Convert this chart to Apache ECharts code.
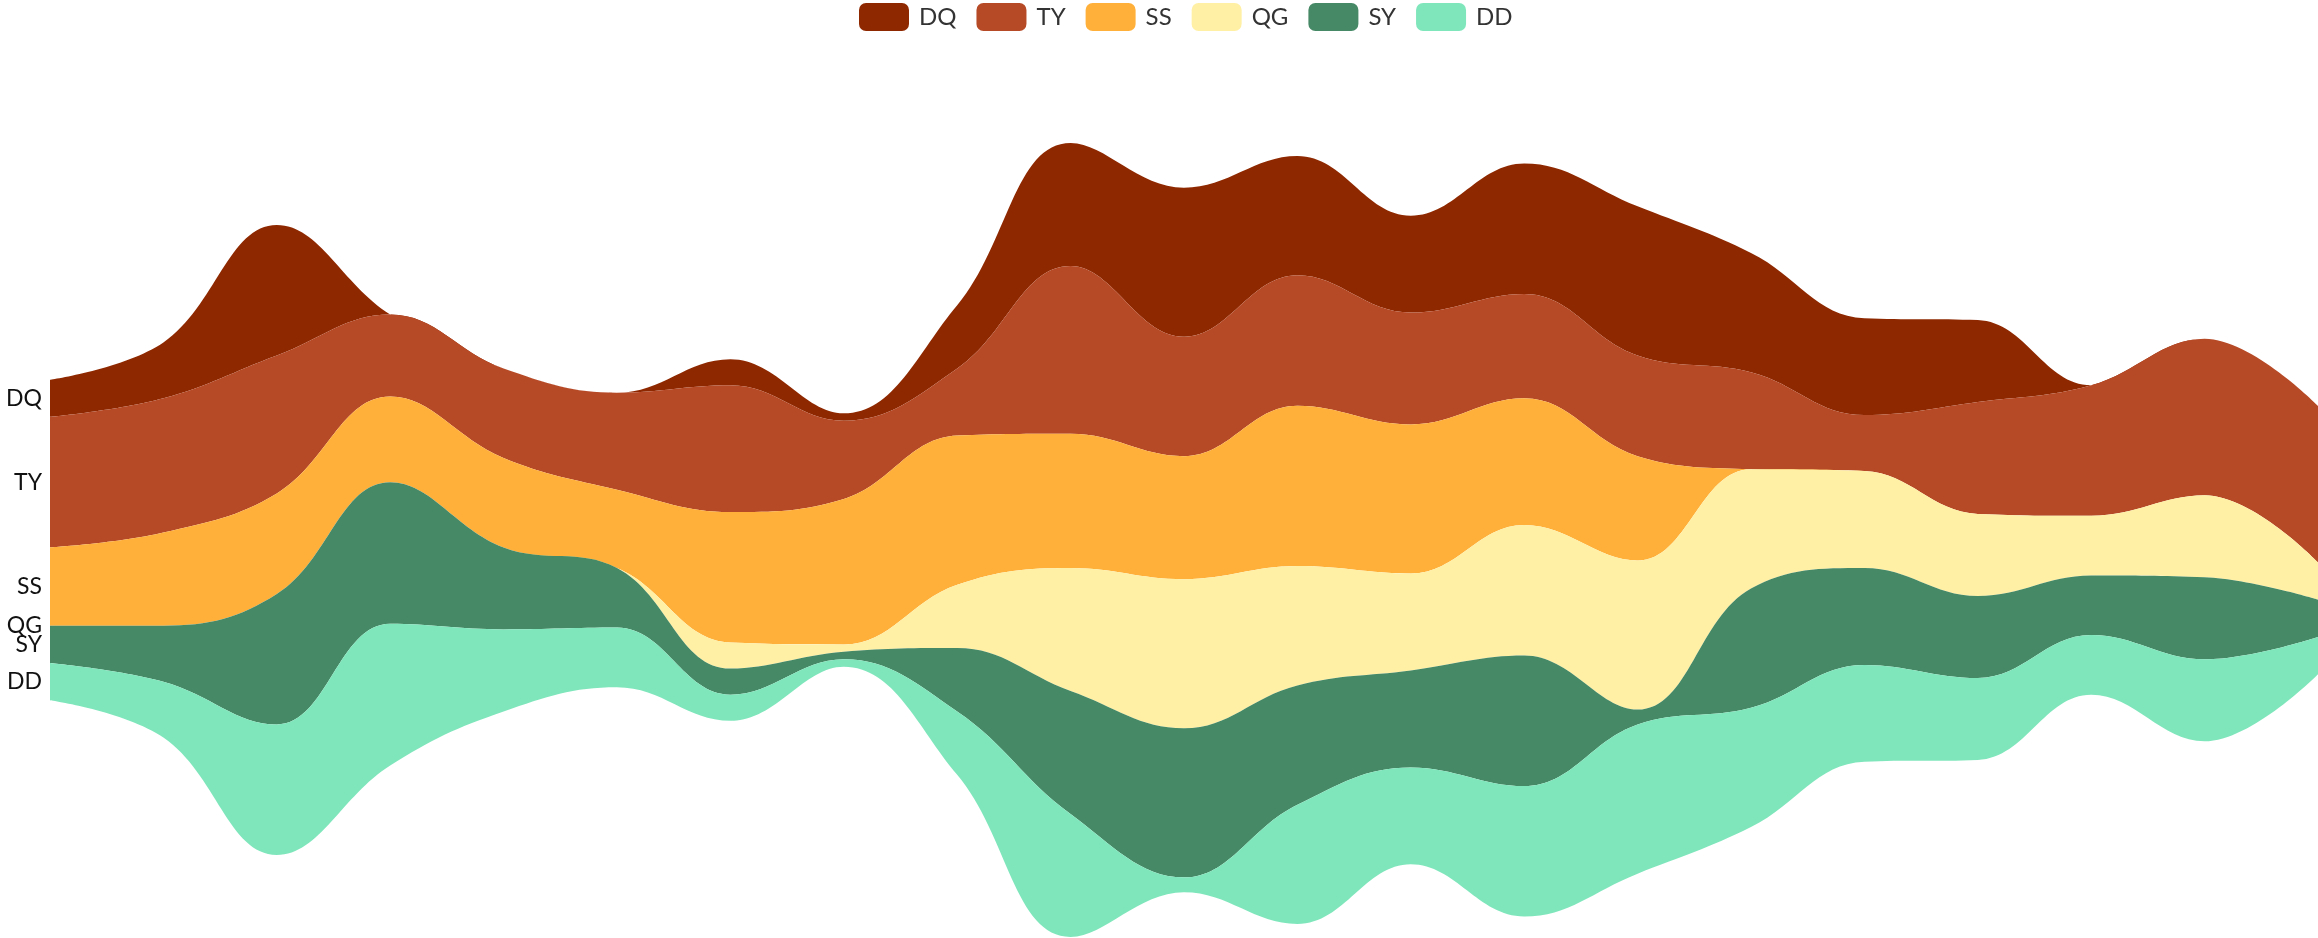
<!DOCTYPE html>
<html>
<head>
<meta charset="utf-8">
<title>ThemeRiver</title>
<script src="https://cdn.jsdelivr.net/npm/echarts@6/dist/echarts.min.js"></script>
<style>
	html, body { margin: 0; padding: 0; background: #fff; }
	#chart { width: 2318px; height: 938px; }
</style>
</head>
<body>
<div id="chart"></div>
<script>

var dates = [
	'2015/11/08', '2015/11/09', '2015/11/10', '2015/11/11', '2015/11/12', '2015/11/13', '2015/11/14',
	'2015/11/15', '2015/11/16', '2015/11/17', '2015/11/18', '2015/11/19', '2015/11/20', '2015/11/21',
	'2015/11/22', '2015/11/23', '2015/11/24', '2015/11/25', '2015/11/26', '2015/11/27', '2015/11/28'
];
var names = ['DQ', 'TY', 'SS', 'QG', 'SY', 'DD'];

var dqValues = [10, 15, 35, 0, 0, 0, 7, 2, 17, 33, 40, 32, 26, 35, 40, 32, 26, 22, 0, 0, 0];
var tyValues = [35, 36, 37, 22, 24, 26, 34, 21, 18, 45, 32, 35, 30, 28, 27, 26, 15, 30, 35, 42, 42];
var ssValues = [21, 25, 27, 23, 24, 21, 35, 39, 40, 36, 33, 43, 40, 34, 28, 0, 0, 0, 0, 0, 0];
var qgValues = [0, 0, 0, 0, 0, 0, 7, 2, 17, 33, 40, 32, 26, 35, 40, 32, 26, 22, 16, 22, 10];
var syValues = [10, 15, 35, 38, 22, 16, 7, 2, 17, 33, 40, 32, 26, 35, 4, 32, 26, 22, 16, 22, 10];
var ddValues = [10, 15, 35, 38, 22, 16, 7, 2, 17, 33, 4, 32, 26, 35, 40, 32, 26, 22, 16, 22, 10];

var colors = ['#8e2800', '#b64926', '#ffb03b', '#fff0a5', '#468966', '#7fe6bc'];
var fontFamily = 'Lato, "Noto Sans", sans-serif';

var layers = [dqValues, tyValues, ssValues, qgValues, syValues, ddValues];

//themeRiver wants [date, value, name] rows
var rows = [];
for(var k = 0; k < names.length; k++){
	for(var ii = 0; ii < dates.length; ii++){
		rows.push([dates[ii], layers[k][ii], names[k]]);
	}
}

var chart = echarts.init(document.getElementById('chart'));

chart.setOption({
	animation: false,
	color: colors,
	legend: {
		data: names,
		left: 859,
		top: 3,
		padding: 0,
		itemWidth: 50,
		itemHeight: 28,
		itemGap: 20,
		textStyle: {
			fontSize: 24,
			color: '#333',
			fontFamily: fontFamily,
			padding: [0, 0, 0, 5]
		}
	},
	// axis is only used for placement, nothing of it is drawn
	singleAxis: {
		type: 'time',
		left: 50,
		right: 0,
		top: 143,
		bottom: 1,
		axisLine: { show: false },
		axisTick: { show: false },
		axisLabel: { show: false },
		splitLine: { show: false }
	},
	series: [{
		type: 'themeRiver',
		boundaryGap: [0, 0],
		label: {
			show: true,
			position: 'left',
			align: 'right',
			margin: 8,
			fontSize: 23,
			color: '#111',
			fontFamily: fontFamily
		},
		data: rows
	}]
});

</script>
</body>
</html>
